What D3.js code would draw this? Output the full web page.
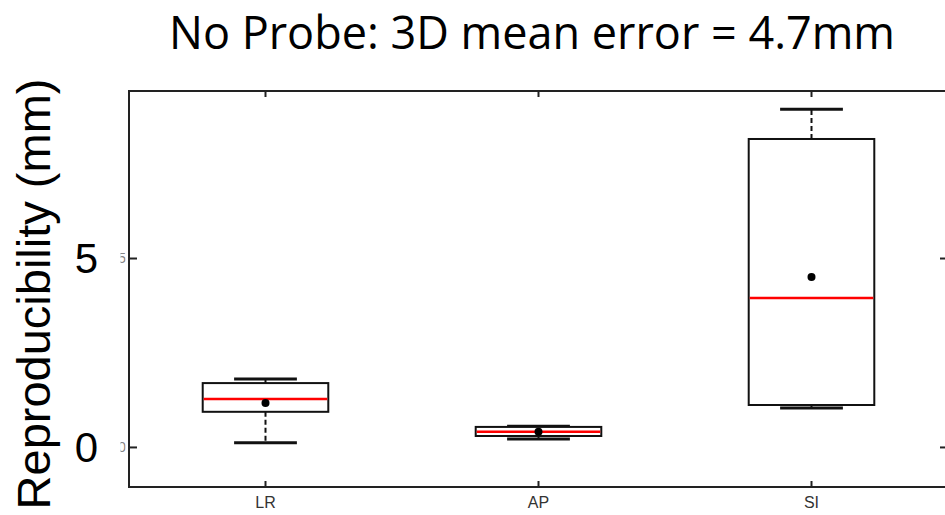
<!DOCTYPE html>
<html>
<head>
<meta charset="utf-8">
<script src="https://cdn.jsdelivr.net/npm/d3@7"></script>
<style>
  body { margin: 0; background: #fff; }
  svg { display: block; }
</style>
</head>
<body>
<svg id="chart"></svg>
<script>
// The data
var categories = ['LR', 'AP', 'SI'];
var lowWhisker = [0.11, 0.21, 1.03];
var q1Values   = [0.93, 0.29, 1.11];
var medians    = [1.27, 0.40, 3.94];
var q3Values   = [1.69, 0.53, 8.15];
var highWhisker= [1.80, 0.55, 8.94];
var means      = [1.16, 0.40, 4.50];
var yTicks     = [0, 5];

var title = 'No Probe: 3D mean error = 4.7mm';
var yTitle = 'Reproducibility (mm)';

var boxes = categories.map(function(c, i){
  return {cat: c, lo: lowWhisker[i], q1: q1Values[i], med: medians[i],
          q3: q3Values[i], hi: highWhisker[i], mean: means[i]};
});

var width = 945, height = 515;
var margin = {left: 129, top: 91, right: -3, bottom: 28};

var svg = d3.select('svg#chart')
  .attr('width', width)
  .attr('height', height);

var x = d3.scaleBand()
  .domain(categories)
  .range([margin.left, width - margin.right])
  .paddingInner(0).paddingOuter(0);

var y = d3.scaleLinear()
  .domain([-1.06, 9.42])
  .range([height - margin.bottom, margin.top]);

var boxW = x.bandwidth() * 0.46;
var capW = boxW / 2;

// Frame
svg.append('rect')
  .attr('x', x.range()[0]).attr('y', y.range()[1])
  .attr('width', x.range()[1] - x.range()[0])
  .attr('height', y.range()[0] - y.range()[1])
  .attr('fill', 'none').attr('stroke', '#222').attr('stroke-width', 2);

// Axes with inward ticks
var leftAxis = svg.append('g').attr('transform', 'translate(' + x.range()[0] + ',0)')
  .call(d3.axisLeft(y).tickValues(yTicks).tickSize(-8).tickFormat(''));
var rightAxis = svg.append('g').attr('transform', 'translate(' + x.range()[1] + ',0)')
  .call(d3.axisRight(y).tickValues(yTicks).tickSize(-8).tickFormat(''));
var bottomAxis = svg.append('g').attr('transform', 'translate(0,' + y.range()[0] + ')')
  .call(d3.axisBottom(x).tickSize(-6).tickPadding(10));
var topAxis = svg.append('g').attr('transform', 'translate(0,' + y.range()[1] + ')')
  .call(d3.axisTop(x).tickSize(-6).tickFormat(''));

[leftAxis, rightAxis, bottomAxis, topAxis].forEach(function(a){
  a.select('.domain').remove();
  a.selectAll('.tick line').attr('stroke', '#222').attr('stroke-width', 2);
});
bottomAxis.selectAll('.tick text')
  .attr('font-family', 'Liberation Sans, Arial, sans-serif')
  .attr('font-size', 16)
  .attr('fill', '#333');

// Faint remnants of the small tick labels, clipped at the frame
svg.append('clipPath').attr('id', 'remnant')
  .append('rect').attr('x', 120.5).attr('y', 0).attr('width', 5).attr('height', height);
svg.append('g').attr('clip-path', 'url(#remnant)')
  .selectAll('text').data(yTicks).enter().append('text')
  .attr('x', 126).attr('y', function(d){ return y(d); })
  .attr('dy', '0.35em')
  .attr('text-anchor', 'end')
  .attr('font-family', 'Liberation Sans, Arial, sans-serif')
  .attr('font-size', 15)
  .attr('fill', '#888')
  .text(function(d){ return d; });

// Big tick labels
svg.append('g').selectAll('text').data(yTicks).enter().append('text')
  .attr('x', 98).attr('y', function(d){ return y(d); })
  .attr('dy', '0.36em')
  .attr('text-anchor', 'end')
  .attr('font-family', 'Liberation Sans, Arial, sans-serif')
  .attr('font-size', 42)
  .attr('fill', '#000')
  .text(function(d){ return d; });

// Boxes
var g = svg.selectAll('g.box').data(boxes).enter().append('g').attr('class', 'box')
  .attr('transform', function(d){ return 'translate(' + (x(d.cat) + x.bandwidth() / 2) + ',0)'; });

// whiskers
g.append('line')
  .attr('x1', 0).attr('x2', 0)
  .attr('y1', function(d){ return y(d.q3); }).attr('y2', function(d){ return y(d.hi); })
  .attr('stroke', '#111').attr('stroke-width', 2).attr('stroke-dasharray', '5,3');
g.append('line')
  .attr('x1', 0).attr('x2', 0)
  .attr('y1', function(d){ return y(d.q1); }).attr('y2', function(d){ return y(d.lo); })
  .attr('stroke', '#111').attr('stroke-width', 2).attr('stroke-dasharray', '5,3');

// caps
g.selectAll('line.cap').data(function(d){ return [d.lo, d.hi]; }).enter().append('line')
  .attr('class', 'cap')
  .attr('x1', -capW / 2).attr('x2', capW / 2)
  .attr('y1', function(v){ return y(v); }).attr('y2', function(v){ return y(v); })
  .attr('stroke', '#111').attr('stroke-width', 3);

// box
g.append('rect')
  .attr('x', -boxW / 2).attr('width', boxW)
  .attr('y', function(d){ return y(d.q3); })
  .attr('height', function(d){ return y(d.q1) - y(d.q3); })
  .attr('fill', '#fff').attr('stroke', '#111').attr('stroke-width', 2);

// median
g.append('line')
  .attr('x1', -boxW / 2 + 1).attr('x2', boxW / 2 - 1)
  .attr('y1', function(d){ return y(d.med); }).attr('y2', function(d){ return y(d.med); })
  .attr('stroke', '#f00').attr('stroke-width', 2.5);

// mean
g.append('circle')
  .attr('cx', 0).attr('cy', function(d){ return y(d.mean); })
  .attr('r', 4).attr('fill', '#000');

// Titles
svg.append('text')
  .attr('x', 532).attr('y', 49)
  .attr('text-anchor', 'middle')
  .attr('font-family', 'Open Sans, sans-serif')
  .attr('font-size', 45)
  .attr('fill', '#000')
  .text(title);

svg.append('text')
  .attr('transform', 'translate(50,294) rotate(-90)')
  .attr('text-anchor', 'middle')
  .attr('font-family', 'Liberation Sans, Arial, sans-serif')
  .attr('font-size', 47)
  .attr('fill', '#000')
  .text(yTitle);
</script>
</body>
</html>
